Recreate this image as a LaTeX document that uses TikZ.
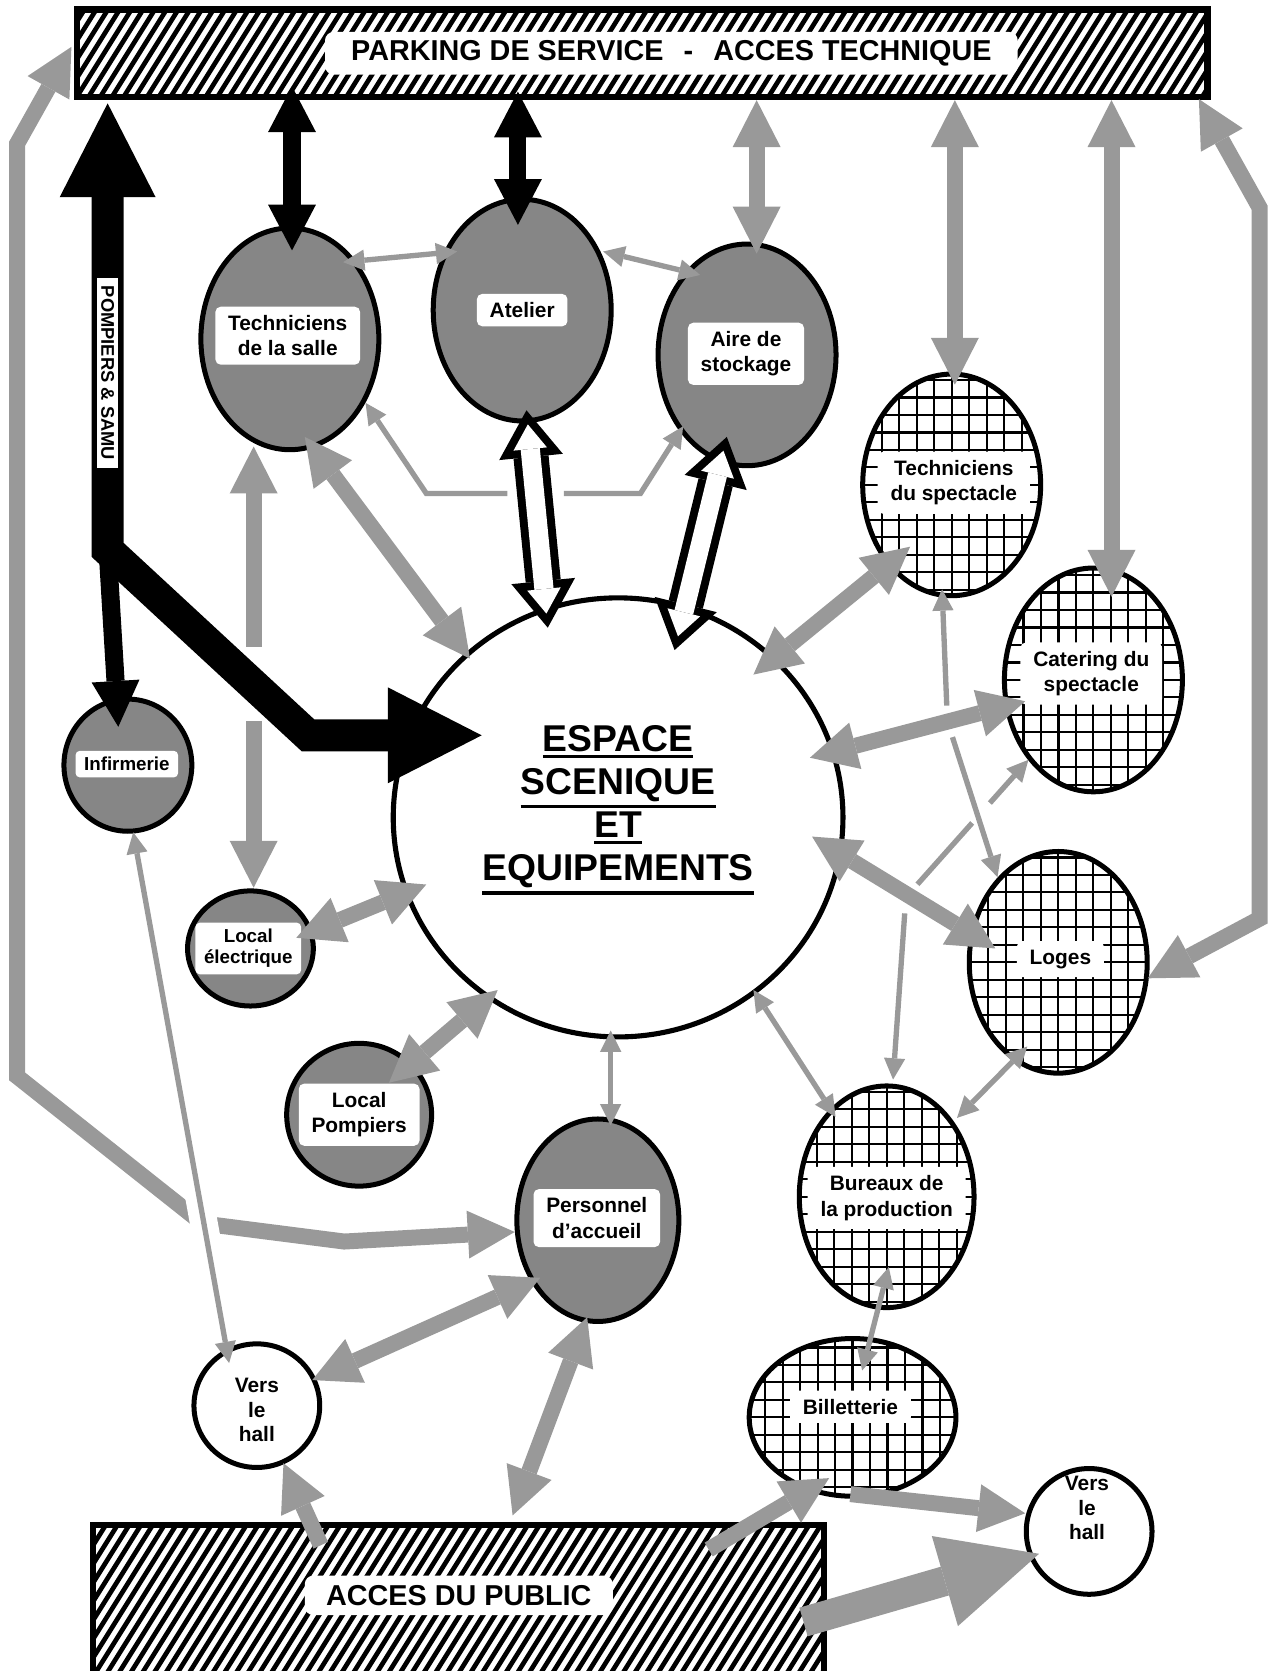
\documentclass[tikz,border=0pt]{standalone}
\usepackage{fontspec}
\setmainfont{Liberation Sans}
\usetikzlibrary{arrows.meta,calc,shapes.geometric}
\definecolor{arrgray}{RGB}{153,153,153}
\definecolor{stipcol}{RGB}{134,134,134}
\newcommand\lfont{\bfseries\fontsize{9.8}{12}\selectfont}
\newcommand\sfontx{\bfseries\fontsize{8.8}{10}\selectfont}
\newcommand\hallfont{\bfseries\fontsize{9.8}{11.5}\selectfont}
\newcommand\myul[1]{\leavevmode\vtop{\hbox{#1}\kern1.6pt\hrule height 1.5pt}}
\tikzset{
  gT/.tip={Triangle[width=22.5pt,length=22pt,line width=0pt 0 0]},
  tT/.tip={Triangle[width=10pt,length=10pt,line width=0pt 0 0]},
  bT/.tip={Triangle[width=22.5pt,length=21.5pt,line width=0pt 0 0]},
  BT/.tip={Triangle[width=45pt,length=44pt,line width=0pt 0 0]},
  vT/.tip={Triangle[width=44pt,length=46pt,line width=0pt 0 0]},
  hoT/.tip={Triangle[width=30pt,length=22pt,line width=0pt 0 0]},
  hiT/.tip={Triangle[width=15.8pt,length=11.6pt,line width=0pt 0 0]},
  gdbl/.style={draw=arrgray, line width=7.5pt, gT-gT},
  garr/.style={draw=arrgray, line width=7.5pt, -gT},
  tdbl/.style={draw=arrgray, line width=2.5pt, tT-tT},
  tarr/.style={draw=arrgray, line width=2.5pt, -tT},
  bdbl/.style={draw=black, line width=8pt, bT-bT},
  barr/.style={draw=black, line width=8.5pt, -bT},
  Bdbl/.style={draw=black, line width=15pt, BT-BT, line join=miter},
  varr/.style={draw=arrgray, line width=14pt, -vT},
  hout/.style={draw=black, line width=16.5pt, hoT-hoT},
  hin/.style={draw=white, line width=9pt, hiT-hiT, shorten <=6.65pt, shorten >=6.65pt},
  gapw/.style={draw=white, line width=4pt},
  hatchbox/.style={rectangle, draw, line width=3pt, fill=white, inner sep=0pt,
    path picture={\foreach \i in {-40,...,130}{
      \draw[line width=2.2pt] ($(path picture bounding box.south west)+(\i*11,0)$) -- ++(187.5,-300);}}},
  stip/.style={ellipse, draw, line width=2.35pt, fill=stipcol, inner sep=0pt},
  gridell/.style={ellipse, draw, line width=2.35pt, fill=white, inner sep=0pt,
    path picture={\draw[line width=1pt] (path picture bounding box.south west) grid[step=8.2pt] (path picture bounding box.north east);}},
  plainell/.style={ellipse, draw, line width=2.35pt, fill=white, inner sep=0pt},
  lab/.style={fill=white, rounded corners=2.5pt, inner xsep=6pt, inner ysep=4pt, align=center, font=\lfont},
  labs/.style={fill=white, rounded corners=2pt, inner xsep=4pt, inner ysep=3pt, align=center, font=\sfontx},
  biglab/.style={fill=white, rounded corners=4pt, inner sep=0pt, font=\bfseries\fontsize{13.5}{16}\selectfont},
}
\begin{document}
\begin{tikzpicture}[x=0.5pt,y=-0.5pt]
\useasboundingbox (0,0) rectangle (1190,1568);

% hatched areas
\node[hatchbox, minimum width=530.5pt, minimum height=41pt] (park) at (602.5,50) {};
\node[biglab, minimum width=325pt, minimum height=20pt] (parklab) at ($(park.center)+(27.5,0)$) {PARKING DE SERVICE\hspace{0.7em}-\hspace{0.7em}ACCES TECHNIQUE};
\node[hatchbox, minimum width=343pt, minimum height=133pt] (acc) at (430,1564) {};
\node[biglab, minimum width=144.5pt, minimum height=18.5pt] (acclab) at ($(acc.north west)+(346.5,69)$) {ACCES DU PUBLIC};

% places
\node[stip, minimum width=83.5pt, minimum height=104pt] (TS) at (272,318) {};
\node[stip, minimum width=83.5pt, minimum height=104pt] (AT) at (490,291) {};
\node[stip, minimum width=83.5pt, minimum height=104pt] (AS) at (701,333) {};
\node[gridell, minimum width=83.5pt, minimum height=104pt] (TSP) at (893,455) {};
\node[gridell, minimum width=83.5pt, minimum height=105pt] (CAT) at (1026,638) {};
\node[gridell, minimum width=83.5pt, minimum height=104pt] (LOG) at (993,903) {};
\node[gridell, minimum width=82pt, minimum height=104pt] (BUR) at (832,1123) {};
\node[gridell, minimum width=97pt, minimum height=74pt] (BIL) at (800,1330) {};
\node[plainell, minimum width=59pt, minimum height=59pt] (HR) at (1022,1437) {};
\node[plainell, minimum width=59pt, minimum height=58pt] (HL) at (241,1319) {};
\node[stip, minimum width=60pt, minimum height=62pt] (INF) at (120,718) {};
\node[stip, minimum width=59pt, minimum height=54pt] (LE) at (235,890) {};
\node[stip, minimum width=68pt, minimum height=67pt] (LP) at (337,1046) {};
\node[stip, minimum width=76pt, minimum height=95pt] (PA) at (561,1145) {};
\node[ellipse, draw, line width=2.4pt, fill=white, inner sep=0pt, minimum width=211pt, minimum height=206pt] (ESP) at (580,767) {};

% labels
\node[align=center, font=\bfseries\fontsize{17.5}{20.25}\selectfont] (esptxt) at ($(ESP.center)+(0,-7)$) {\myul{ESPACE}\\\myul{SCENIQUE}\\\myul{ET}\\\myul{EQUIPEMENTS}};
\node[lab] (labTS) at ($(TS.center)+(-2,-3)$) {Techniciens\\de la salle};
\node[lab] (labAT) at (AT.center) {Atelier};
\node[lab] (labAS) at ($(AS.center)+(-1,-1)$) {Aire de\\stockage};
\node[lab] (labTSP) at ($(TSP.center)+(2,-2)$) {Techniciens\\du spectacle};
\node[lab] (labCAT) at ($(CAT.center)+(-2,-6)$) {Catering du\\spectacle};
\node[lab] (labLOG) at ($(LOG.center)+(2,-3)$) {Loges};
\node[lab] (labBUR) at ($(BUR.center)+(0,1)$) {Bureaux de\\la production};
\node[lab] (labBIL) at ($(BIL.center)+(-2,-10)$) {Billetterie};
\node[labs] (labINF) at ($(INF.center)+(-1,-1)$) {Infirmerie};
\node[labs] (labLE) at ($(LE.center)+(-2,0)$) {Local\\électrique};
\node[lab] (labLP) at (LP.center) {Local\\Pompiers};
\node[lab] (labPA) at ($(PA.center)+(-1,-2)$) {Personnel\\d’accueil};
\node[align=center, font=\hallfont] (labHL) at ($(HL.center)+(0,4)$) {Vers\\le\\hall};
\node[align=center, font=\hallfont] (labHR) at ($(HR.center)+(-2,-22)$) {Vers\\le\\hall};

% thin connectors with crossing gaps
\coordinate (t6a) at ($(CAT.center)+(-61,75)$);
\coordinate (t6b) at (850,842);
\coordinate (t6c) at ($(BUR.center)+(6,-110)$);
\draw[tdbl, line join=miter] (t6a) -- (t6b) -- (t6c);
\draw[gapw] ($(t6a)!0.315!(t6b)$) -- ($(t6a)!0.458!(t6b)$);
\draw[gapw] ($(t6a)!0.906!(t6b)$) -- (t6b) -- ($(t6b)!0.088!(t6c)$);
\coordinate (t5a) at ($(TSP.center)+(-9,98)$);
\coordinate (t5b) at (889,677);
\coordinate (t5c) at ($(LOG.center)+(-57,-80)$);
\draw[tdbl, line join=miter] (t5a) -- (t5b) -- (t5c);
\draw[gapw] ($(t5b)!0.12!(t5a)$) -- (t5b) -- ($(t5b)!0.1!(t5c)$);

\draw[tdbl] ($(TS.center)+(50,-72)$) -- ($(AT.center)+(-61,-55)$);
\draw[tdbl] ($(AT.center)+(76,-55)$) -- ($(AS.center)+(-44,-75)$);
\coordinate (t3a) at (476,463);
\coordinate (t3b) at (400,463);
\draw[tarr, line join=miter] (t3a) -- (t3b) -- ($(TS.center)+(71,60)$);
\coordinate (t4a) at (529,463);
\coordinate (t4b) at (601,463);
\draw[tarr, line join=miter] (t4a) -- (t4b) -- ($(AS.center)+(-60,67)$);
\draw[tdbl] ($(ESP.center)+(127,162)$) -- ($(BUR.center)+(-48,-75)$);
\draw[tdbl] ($(LOG.center)+(-29,79)$) -- ($(BUR.center)+(66,-74)$);
\draw[tdbl] ($(BUR.center)+(2,66)$) -- ($(BIL.center)+(9,-44)$);
\draw[tdbl] ($(ESP.center)+(-7,200)$) -- ($(PA.center)+(12,-89)$);

% long left path, with bridge for the thin line
\coordinate (g5a) at (16,135);
\coordinate (g5b) at (16,1010);
\coordinate (g5c) at (190,1148);
\coordinate (g5d) at (323,1165);
\draw[gdbl, line join=miter] ($(park.west)+(-2,-6)$) -- (g5a) -- (g5b) -- (g5c) -- (g5d) -- ($(PA.center)+(-78,11)$);
\coordinate (t11a) at ($(INF.center)+(5,63)$);
\coordinate (t11b) at ($(HL.center)+(-26,-40)$);
\draw[white, line width=13pt] ($(t11a)!0.67!(t11b)$) -- ($(t11a)!0.80!(t11b)$);
\draw[tdbl] (t11a) -- (t11b);

% right path to Loges
\coordinate (g4a) at (1182,195);
\coordinate (g4b) at (1182,862);
\draw[gdbl, line join=miter] ($(park.south east)+(-11,-1)$) -- (g4a) -- (g4b) -- ($(LOG.center)+(84,15)$);

% thick grey connectors
\draw[gdbl] ($(AS.center|-park.south)+(9,0)$) -- ($(AS.center)+(9,-95)$);
\draw[gdbl] ($(TSP.center|-park.south)+(3,0)$) -- ($(TSP.center)+(3,-94)$);
\draw[gdbl] ($(CAT.center|-park.south)+(17,0)$) -- ($(CAT.center)+(17,-78)$);
\coordinate (g7a) at ($(TS.center)+(-34,101)$);
\coordinate (g7b) at ($(LE.center)+(3,-57)$);
\draw[gdbl] (g7a) -- (g7b);
\draw[white, line width=9pt] ($(g7a)!0.454!(g7b)$) -- ($(g7a)!0.623!(g7b)$);
\draw[gdbl] ($(TS.center)+(14,92)$) -- ($(ESP.center)+(-139,-149)$);
\draw[gdbl] ($(LE.center)+(43,-10)$) -- ($(ESP.center)+(-180,63)$);
\draw[gdbl] ($(LP.center)+(28,-30)$) -- ($(ESP.center)+(-113,162)$);
\draw[gdbl] ($(ESP.center)+(127,-134)$) -- ($(TSP.center)+(-39,58)$);
\draw[gdbl] ($(ESP.center)+(180,-56)$) -- ($(CAT.center)+(-64,20)$);
\draw[gdbl] ($(ESP.center)+(182,18)$) -- ($(LOG.center)+(-59,-13)$);
\draw[gdbl] ($(PA.center)+(-54,54)$) -- ($(HL.center)+(52,-24)$);
\draw[gdbl] ($(PA.center)+(-10,91)$) -- ($(acc.north west)+(397,-6)$);
\draw[garr] ($(acc.north west)+(217,22)$) -- ($(HL.center)+(25,54)$);
\draw[garr] ($(acc.north west)+(581,26)$) -- ($(BIL.center)+(-22,57)$);
\draw[garr] ($(BIL.center)+(-2,72)$) -- ($(HR.center)+(-60,-17)$);
\draw[varr] ($(acc.north west)+(670,94)$) -- ($(HR.center)+(-47,21)$);

% black connectors
\draw[bdbl] ($(TS.center|-park.south)+(2,-13)$) -- ($(TS.center)+(2,-83)$);
\draw[bdbl] ($(AT.center|-park.south)+(-4,-8)$) -- ($(AT.center)+(-4,-80)$);
\coordinate (pc1) at (101,516);
\coordinate (pc2) at (289,690);
\draw[Bdbl] ($(pc1|-park.south)+(0,3)$) -- (pc1) -- (pc2) -- ($(ESP.center)+(-128,-77)$);
\draw[barr] (pc1) -- ($(INF.center)+(-9,-36)$);
\node[rotate=-90, fill=white, inner xsep=3.75pt, inner ysep=1.9pt, font=\bfseries\fontsize{8.6}{10}\selectfont] (pslab) at (101,350) {POMPIERS \& SAMU};

% hollow connectors
\draw[hout] ($(AT.center)+(4,94)$) -- ($(ESP.center)+(-66,-178)$);
\draw[hin] ($(AT.center)+(4,94)$) -- ($(ESP.center)+(-66,-178)$);
\draw[hout] ($(ESP.center)+(53,-157)$) -- ($(AS.center)+(-19,77)$);
\draw[hin] ($(ESP.center)+(53,-157)$) -- ($(AS.center)+(-19,77)$);
\end{tikzpicture}
\end{document}
